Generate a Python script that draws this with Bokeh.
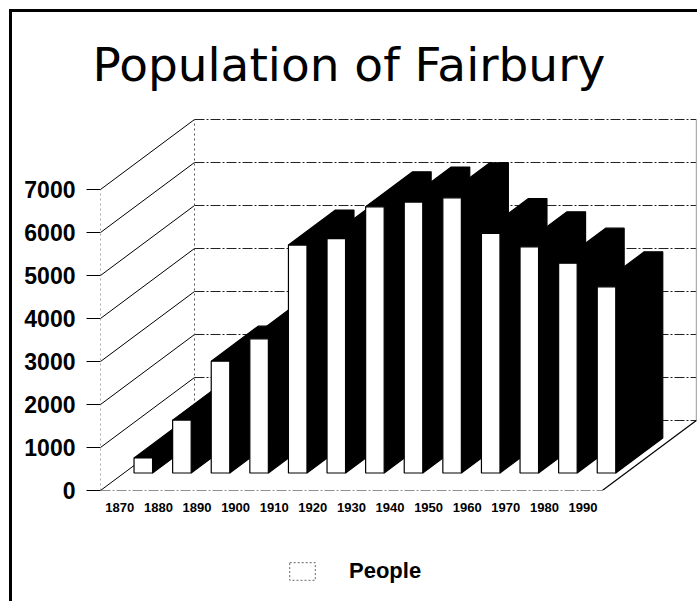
from bokeh.plotting import figure
from bokeh.layouts import column
from bokeh.models import Range1d, FixedTicker, Legend, LegendItem, Title
from bokeh.embed import file_html
from bokeh.resources import INLINE

# ---- data ----
years = [1870, 1880, 1890, 1900, 1910, 1920, 1930, 1940, 1950, 1960, 1970, 1980, 1990]
population = [350, 1230, 2600, 3120, 5300, 5450, 6190, 6300, 6400, 5570, 5260, 4880, 4330]
y_ticks = [0, 1000, 2000, 3000, 4000, 5000, 6000, 7000]
title_text = "Population of Fairbury"
series_name = "People"

# ---- layout constants (pixels) ----
PX_PER_CAT = 38.6          # horizontal pixels per category
PX_PER_UNIT = 0.043        # vertical pixels per person
FRAME_W, FRAME_H = 597, 390
DEPTH_PX_X, DEPTH_PX_Y = 94, 70
BAR_F0, BAR_F1 = 0.25, 0.75   # bar depth position (fraction of floor depth)
BAR_W = 0.48

DX = DEPTH_PX_X / PX_PER_CAT
DY = DEPTH_PX_Y / PX_PER_UNIT
n = len(years)
nan = float("nan")

p = figure(width=697, height=530, output_backend="svg", toolbar_location=None,
           x_range=Range1d(0, FRAME_W / PX_PER_CAT), y_range=Range1d(0, FRAME_H / PX_PER_UNIT),
           frame_width=FRAME_W, frame_height=FRAME_H,
           min_border_left=100, min_border_right=0, min_border_top=100, min_border_bottom=40)
p.outline_line_color = None
p.grid.visible = False
p.background_fill_color = "white"
p.border_fill_color = None
p.styles = {"box-shadow": "inset 9px 9px 0 0 white, inset 12px 12px 0 0 black",
            "background-color": "white"}

# title
t = Title(text=title_text, align="left", offset=-8, text_font="DejaVu Sans",
          text_font_size="47px", text_font_style="normal", text_color="black",
          vertical_align="bottom", standoff=18)
p.add_layout(t, "above")

# ---- walls and floor ----
top_v = y_ticks[-1]
p.segment(x0=[DX] * len(y_ticks), y0=[v + DY for v in y_ticks],
          x1=[n + DX] * len(y_ticks), y1=[v + DY for v in y_ticks],
          line_color="#222222", line_width=1, line_dash="10 2 2 2")
p.segment(x0=[0] * len(y_ticks), y0=y_ticks,
          x1=[DX] * len(y_ticks), y1=[v + DY for v in y_ticks],
          line_color="black", line_width=1)
p.segment(x0=[0, DX], y0=[0, DY], x1=[0, DX], y1=[top_v, top_v + DY],
          line_color="#555555", line_width=1, line_dash="2 3")
p.segment(x0=[n + DX], y0=[DY], x1=[n + DX], y1=[top_v + DY],
          line_color="#999999", line_width=1)
p.segment(x0=[0], y0=[0], x1=[n], y1=[0], line_color="#222222", line_width=1.2, line_dash="10 2 2 2")
p.segment(x0=[n], y0=[0], x1=[n + DX], y1=[DY], line_color="black", line_width=1.2)

# ---- bars ----
xs, ys, fills = [], [], []
d = BAR_F1 - BAR_F0
for i, v in enumerate(population):
    c = i + 0.5 + BAR_F0 * DX
    xl, xr = c - BAR_W / 2, c + BAR_W / 2
    yb = BAR_F0 * DY
    yt = yb + v
    xs.append([xl, xl + d * DX, xr + d * DX, xr + d * DX, xr, xr])
    ys.append([yt, yt + d * DY, yt + d * DY, yb + d * DY, yb, yt])
    fills.append("black")
    xs.append([xl, xr, xr, xl])
    ys.append([yb, yb, yt, yt])
    fills.append("white")
p.patches(xs=xs, ys=ys, fill_color=fills, line_color="black", line_width=1.2)

# ---- axes ----
ya = p.yaxis[0]
ya.ticker = FixedTicker(ticks=y_ticks)
ya.axis_line_color = None
ya.major_tick_out = 14
ya.major_tick_in = 0
ya.minor_tick_out = 0
ya.minor_tick_in = 0
ya.major_tick_line_color = "black"
ya.major_label_standoff = 11
ya.major_label_text_font = "Liberation Sans"
ya.major_label_text_font_style = "bold"
ya.major_label_text_font_size = "23px"
ya.major_label_text_color = "black"

xa = p.xaxis[0]
xa.ticker = FixedTicker(ticks=[i + 0.5 for i in range(n)])
xa.major_label_overrides = {i + 0.5: str(y) for i, y in enumerate(years)}
xa.axis_line_color = None
xa.major_tick_out = 0
xa.major_tick_in = 0
xa.minor_tick_out = 0
xa.minor_tick_in = 0
xa.major_label_standoff = 12
xa.major_label_text_font = "Liberation Sans"
xa.major_label_text_font_style = "bold"
xa.major_label_text_font_size = "13px"
xa.major_label_text_color = "black"

# ---- legend (separate strip below the chart) ----
q = figure(width=697, height=71, output_backend="svg", toolbar_location=None,
           x_range=Range1d(0, 1), y_range=Range1d(0, 1),
           min_border_left=100, min_border_right=0, min_border_top=0, min_border_bottom=0)
q.axis.visible = False
q.grid.visible = False
q.outline_line_color = None
q.border_fill_color = None
q.background_fill_color = None
q.styles = {"box-shadow": "inset 9px 0 0 0 white, inset 12px 0 0 0 black",
            "background-color": "white"}
proxy = q.quad(left=[nan], right=[nan], top=[nan], bottom=[nan], fill_color="white",
               line_color="#666666", line_dash="2 2", line_width=1)
legend = Legend(items=[LegendItem(label=series_name, renderers=[proxy])],
                location=(186, 17), orientation="horizontal",
                glyph_width=32, glyph_height=22, label_standoff=31,
                label_text_font="Liberation Sans", label_text_font_style="bold",
                label_text_font_size="22px", label_text_color="black",
                padding=0, margin=0, border_line_color=None, background_fill_alpha=0)
q.add_layout(legend, "center")

layout = column(p, q, spacing=0)
open("out.html", "w").write(file_html(layout, INLINE))
